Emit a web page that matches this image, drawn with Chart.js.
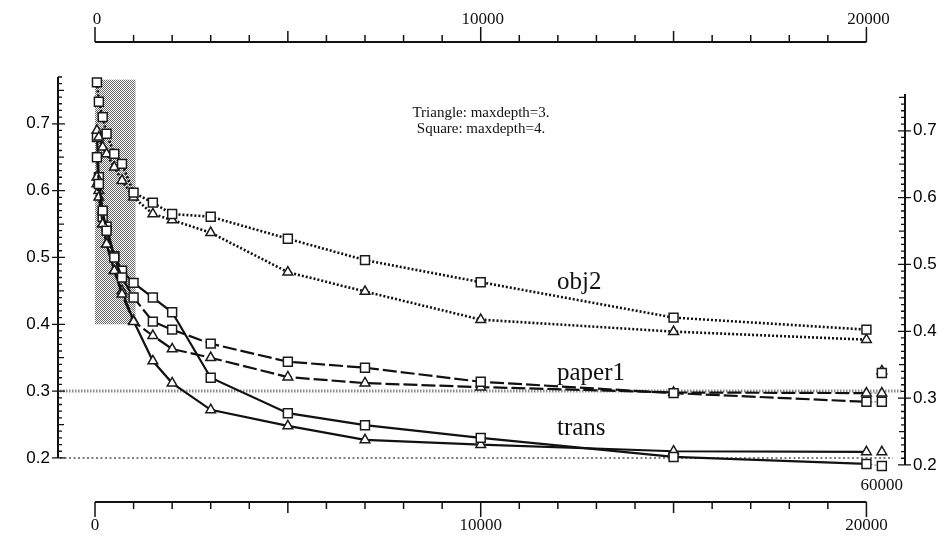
<!DOCTYPE html>
<html>
<head>
<meta charset="utf-8">
<script src="https://cdn.jsdelivr.net/npm/chart.js@4"></script>
<style>
  html, body { margin: 0; padding: 0; background: #fff; }
</style>
</head>
<body>
<canvas id="chart" width="952" height="540"></canvas>
<script>
// x = cache size, last column is drawn on a broken axis (60000)
const sizes = [50, 100, 200, 300, 500, 700, 1000, 1500, 2000, 3000, 5000, 7000, 10000, 15000, 20000, 60000];

const obj2Square   = [0.762, 0.733, 0.71, 0.685, 0.655, 0.64, 0.597, 0.582, 0.565, 0.561, 0.528, 0.496, 0.463, 0.41, 0.392, 0.327];
const obj2Tri      = [0.69, 0.68, 0.665, 0.655, 0.635, 0.615, 0.59, 0.565, 0.556, 0.537, 0.478, 0.449, 0.407, 0.389, 0.377, 0.33];
const paper1Square = [0.65, 0.61, 0.57, 0.54, 0.50, 0.47, 0.44, 0.404, 0.392, 0.371, 0.344, 0.335, 0.314, 0.297, 0.284, 0.284];
const paper1Tri    = [0.62, 0.59, 0.55, 0.52, 0.48, 0.445, 0.404, 0.383, 0.363, 0.35, 0.321, 0.312, 0.306, 0.298, 0.297, 0.297];
const transSquare  = [0.68, 0.62, 0.561, 0.546, 0.502, 0.48, 0.462, 0.44, 0.418, 0.32, 0.267, 0.249, 0.23, 0.2015, 0.191, 0.188];
const transTri     = [0.61, 0.6, 0.55, 0.52, 0.48, 0.45, 0.405, 0.345, 0.312, 0.272, 0.248, 0.227, 0.22, 0.21, 0.209, 0.209];

const xTicks = [0, 10000, 20000];
const yTicks = [0.2, 0.3, 0.4, 0.5, 0.6, 0.7];
const refLines = [0.3, 0.2];
const shade = { x0: 0, x1: 1050, y0: 0.4, y1: 0.766 };

// squeeze everything past 20000 so 60000 lands just right of 20000
function brk(v) {
    return v <= 20000 ? v : 20000 + (v - 20000) / 100;
}

function pts(vals) {
    return vals.map((v, i) => ({ x: brk(sizes[i]), y: v }));
}

const last = sizes.length - 1;

// last segment (20000 -> 60000): thin grey dots, or nothing
function tailDots(ctx) {
    return ctx.p1DataIndex === last ? 'rgba(90,90,90,0.8)' : undefined;
}
function tailNone(ctx) {
    return ctx.p1DataIndex === last ? 'rgba(0,0,0,0)' : undefined;
}

function series(vals, style, dash, width, tail) {
    return {
        data: pts(vals),
        clip: false,
        borderColor: '#111',
        borderWidth: width,
        borderDash: dash,
        pointStyle: style,
        pointRadius: style === 'rect' ? 6.3 : 5.6,
        pointBackgroundColor: '#fff',
        pointBorderColor: '#1a1a1a',
        pointBorderWidth: 1.5,
        tension: 0,
        fill: false,
        segment: {
            borderColor: tail,
            borderDash: ctx => ctx.p1DataIndex === last ? [2, 2] : undefined,
            borderWidth: ctx => ctx.p1DataIndex === last ? 1.2 : undefined
        }
    };
}

const data = {
    datasets: [
        series(obj2Square, 'rect', [2, 2], 2.6, tailNone),
        series(obj2Tri, 'triangle', [2, 2], 2.6, tailNone),
        series(paper1Square, 'rect', [14, 4], 2.2, tailDots),
        series(paper1Tri, 'triangle', [14, 4], 2.2, tailDots),
        series(transSquare, 'rect', [], 2.2, tailDots),
        series(transTri, 'triangle', [], 2.2, tailNone)
    ]
};

const serif = '"Liberation Serif", "DejaVu Serif", serif';
const sans = '"Liberation Sans", Arial, sans-serif';

// stippled grey fill like the scanned plot
function stipple(c) {
    const p = document.createElement('canvas');
    p.width = 2; p.height = 2;
    const g = p.getContext('2d');
    g.fillStyle = '#fff';
    g.fillRect(0, 0, 2, 2);
    g.fillStyle = '#6a6a6a';
    g.fillRect(0, 0, 1, 1);
    g.fillRect(1, 1, 1, 1);
    return c.createPattern(p, 'repeat');
}

const backdrop = {
    id: 'backdrop',
    beforeDatasetsDraw(chart) {
        const c = chart.ctx;
        const x = chart.scales.x, y = chart.scales.y;
        c.save();
        c.fillStyle = stipple(c);
        const l = x.getPixelForValue(shade.x0), r = x.getPixelForValue(shade.x1);
        const t = y.getPixelForValue(shade.y1), b = y.getPixelForValue(shade.y0);
        c.fillRect(l, t, r - l, b - t);

        // reference lines at 0.3 and 0.2
        c.strokeStyle = '#8a8a8a';
        c.lineWidth = 3;
        c.setLineDash([1.5, 1.5]);
        let py = y.getPixelForValue(refLines[0]);
        c.beginPath(); c.moveTo(60, py); c.lineTo(903, py); c.stroke();
        c.strokeStyle = '#555';
        c.lineWidth = 1.5;
        c.setLineDash([2, 2.5]);
        py = y.getPixelForValue(refLines[1]);
        c.beginPath(); c.moveTo(60, py); c.lineTo(893, py); c.stroke();
        c.restore();
    }
};

const frame = {
    id: 'frame',
    afterDraw(chart) {
        const c = chart.ctx;
        const x = chart.scales.x, y = chart.scales.y;
        c.save();
        c.strokeStyle = '#111';
        c.fillStyle = '#111';
        c.lineWidth = 2;
        c.setLineDash([]);

        // top and bottom x axes
        const topY = 42, botY = 502;
        c.beginPath();
        c.moveTo(x.getPixelForValue(0), topY); c.lineTo(x.getPixelForValue(20000), topY);
        c.moveTo(x.getPixelForValue(0), botY); c.lineTo(x.getPixelForValue(20000), botY);
        c.stroke();
        c.lineWidth = 1.5;
        c.beginPath();
        for (let v = 0; v <= 20000; v += 1000) {
            const px = x.getPixelForValue(v);
            const len = v % 10000 === 0 ? 15 : (v % 5000 === 0 ? 11 : 7);
            c.moveTo(px, topY); c.lineTo(px, topY - len);
            c.moveTo(px, botY); c.lineTo(px, botY + len);
        }
        c.stroke();
        c.font = '17px ' + serif;
        c.textAlign = 'center';
        c.textBaseline = 'middle';
        xTicks.forEach(v => {
            const px = x.getPixelForValue(v);
            c.fillText(String(v), px + 2, 20);
            c.fillText(String(v), px, 526);
        });
        c.fillText('60000', x.getPixelForValue(brk(60000)), 486);

        // left and right y axes
        const leftX = 58, rightX = 905, shift = 7;
        c.lineWidth = 2;
        c.beginPath();
        c.moveTo(leftX, y.getPixelForValue(0.2)); c.lineTo(leftX, y.getPixelForValue(0.77));
        c.moveTo(rightX, y.getPixelForValue(0.2) + shift); c.lineTo(rightX, y.getPixelForValue(0.755) + shift);
        c.stroke();
        c.lineWidth = 1.3;
        c.beginPath();
        for (let i = 20; i <= 77; i++) {
            const py = y.getPixelForValue(i / 100);
            const len = i % 10 === 0 ? 7 : (i % 5 === 0 ? 6 : 4);
            c.moveTo(leftX, py); c.lineTo(leftX + len, py);
            if (i % 10 === 0) { c.moveTo(leftX, py); c.lineTo(leftX - 6, py); }
            if (i <= 75) {
                c.moveTo(rightX, py + shift); c.lineTo(rightX - len, py + shift);
                if (i % 10 === 0) { c.moveTo(rightX, py + shift); c.lineTo(rightX + 6, py + shift); }
            }
        }
        c.stroke();
        c.font = '17px ' + sans;
        c.fillStyle = '#000';
        c.textBaseline = 'middle';
        yTicks.forEach(v => {
            const py = y.getPixelForValue(v);
            c.textAlign = 'right';
            c.fillText(v.toFixed(1), leftX - 8, py);
            c.textAlign = 'left';
            c.fillText(v.toFixed(1), rightX + 8, py + shift);
        });

        // notes and curve names
        c.fillStyle = '#111';
        c.textAlign = 'center';
        c.textBaseline = 'alphabetic';
        c.font = '15px ' + serif;
        c.fillText('Triangle: maxdepth=3.', 481, 117);
        c.fillText('Square: maxdepth=4.', 481, 133);
        c.textAlign = 'left';
        c.font = '25px ' + serif;
        c.fillText('obj2', 557, 289);
        c.fillText('paper1', 557, 380);
        c.fillText('trans', 557, 435);
        c.restore();
    }
};

new Chart(document.getElementById('chart'), {
    type: 'line',
    data: data,
    options: {
        responsive: false,
        animation: false,
        events: [],
        layout: { padding: { left: 95, right: 47, top: 77, bottom: 62 } },
        scales: {
            x: { type: 'linear', min: 0, max: 21000, display: false },
            y: { min: 0.17, max: 0.77, display: false }
        },
        plugins: {
            legend: { display: false },
            tooltip: { enabled: false }
        }
    },
    plugins: [backdrop, frame]
});
</script>
</body>
</html>
